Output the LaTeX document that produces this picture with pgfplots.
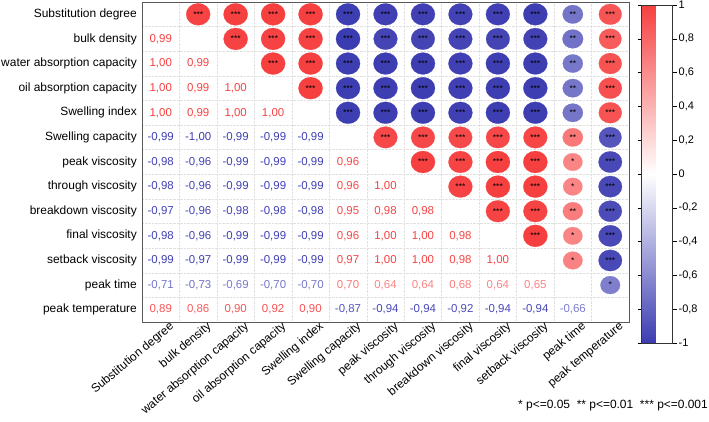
\documentclass[border=0pt]{standalone}
\usepackage{pgfplots}
\pgfplotsset{compat=1.18}
\usepackage{pgfplotstable}
\usepackage{fontspec}
\setmainfont{Liberation Sans}

% Lower triangle: coefficients printed as numbers (x = column, y = row from the top)
\pgfplotstableread{
x y r
1 2 0.99
1 3 1.00
2 3 0.99
1 4 1.00
2 4 0.99
3 4 1.00
1 5 1.00
2 5 0.99
3 5 1.00
4 5 1.00
1 6 -0.99
2 6 -1.00
3 6 -0.99
4 6 -0.99
5 6 -0.99
1 7 -0.98
2 7 -0.96
3 7 -0.99
4 7 -0.99
5 7 -0.99
6 7 0.96
1 8 -0.98
2 8 -0.96
3 8 -0.99
4 8 -0.99
5 8 -0.99
6 8 0.96
7 8 1.00
1 9 -0.97
2 9 -0.96
3 9 -0.98
4 9 -0.98
5 9 -0.98
6 9 0.95
7 9 0.98
8 9 0.98
1 10 -0.98
2 10 -0.96
3 10 -0.99
4 10 -0.99
5 10 -0.99
6 10 0.96
7 10 1.00
8 10 1.00
9 10 0.98
1 11 -0.99
2 11 -0.97
3 11 -0.99
4 11 -0.99
5 11 -0.99
6 11 0.97
7 11 1.00
8 11 1.00
9 11 0.98
10 11 1.00
1 12 -0.71
2 12 -0.73
3 12 -0.69
4 12 -0.70
5 12 -0.70
6 12 0.70
7 12 0.64
8 12 0.64
9 12 0.68
10 12 0.64
11 12 0.65
1 13 0.89
2 13 0.86
3 13 0.90
4 13 0.92
5 13 0.90
6 13 -0.87
7 13 -0.94
8 13 -0.94
9 13 -0.92
10 13 -0.94
11 13 -0.94
12 13 -0.66
}\corrlow

% Upper triangle: circles with significance stars
\pgfplotstableread{
x y r s
2 1 0.99 ***
3 1 1.00 ***
4 1 1.00 ***
5 1 1.00 ***
6 1 -0.99 ***
7 1 -0.98 ***
8 1 -0.98 ***
9 1 -0.97 ***
10 1 -0.98 ***
11 1 -0.99 ***
12 1 -0.71 **
13 1 0.89 ***
3 2 0.99 ***
4 2 0.99 ***
5 2 0.99 ***
6 2 -1.00 ***
7 2 -0.96 ***
8 2 -0.96 ***
9 2 -0.96 ***
10 2 -0.96 ***
11 2 -0.97 ***
12 2 -0.73 **
13 2 0.86 ***
4 3 1.00 ***
5 3 1.00 ***
6 3 -0.99 ***
7 3 -0.99 ***
8 3 -0.99 ***
9 3 -0.98 ***
10 3 -0.99 ***
11 3 -0.99 ***
12 3 -0.69 **
13 3 0.90 ***
5 4 1.00 ***
6 4 -0.99 ***
7 4 -0.99 ***
8 4 -0.99 ***
9 4 -0.98 ***
10 4 -0.99 ***
11 4 -0.99 ***
12 4 -0.70 **
13 4 0.92 ***
6 5 -0.99 ***
7 5 -0.99 ***
8 5 -0.99 ***
9 5 -0.98 ***
10 5 -0.99 ***
11 5 -0.99 ***
12 5 -0.70 **
13 5 0.90 ***
7 6 0.96 ***
8 6 0.96 ***
9 6 0.95 ***
10 6 0.96 ***
11 6 0.97 ***
12 6 0.70 **
13 6 -0.87 ***
8 7 1.00 ***
9 7 0.98 ***
10 7 1.00 ***
11 7 1.00 ***
12 7 0.64 *
13 7 -0.94 ***
9 8 0.98 ***
10 8 1.00 ***
11 8 1.00 ***
12 8 0.64 *
13 8 -0.94 ***
10 9 0.98 ***
11 9 0.98 ***
12 9 0.68 **
13 9 -0.92 ***
11 10 1.00 ***
12 10 0.64 *
13 10 -0.94 ***
12 11 0.65 *
13 11 -0.94 ***
13 12 -0.66 *
}\corrup

\newcommand\lblfont{\fontsize{12}{14}\selectfont}

\begin{document}
\begin{tikzpicture}
\path[use as bounding box] (0,0) rectangle (709bp,-422bp);
\begin{axis}[
  at={(142bp,-322bp)}, anchor=south west,
  scale only axis, width=487bp, height=320bp,
  xmin=0.5, xmax=13.5, ymin=0.5, ymax=13.5,
  xtick={1,...,13}, ytick={1,...,13},
  xticklabels={Substitution degree, bulk density, water absorption capacity,
    oil absorption capacity, Swelling index, Swelling capacity, peak viscosity,
    through viscosity, breakdown viscosity, final viscosity, setback viscosity,
    peak time, peak temperature},
  yticklabels={peak temperature, peak time, setback viscosity, final viscosity,
    breakdown viscosity, through viscosity, peak viscosity, Swelling capacity,
    Swelling index, oil absorption capacity, water absorption capacity,
    bulk density, Substitution degree},
  major tick length=0pt,
  minor xtick={1.5,2.5,3.5,4.5,5.5,6.5,7.5,8.5,9.5,10.5,11.5,12.5},
  minor ytick={1.5,2.5,3.5,4.5,5.5,6.5,7.5,8.5,9.5,10.5,11.5,12.5},
  minor tick length=0pt,
  xminorgrids, yminorgrids,
  minor grid style={black!12, densely dotted},
  axis line style={black!65, line width=0.9pt},
  ticklabel style={font=\lblfont},
  xticklabel style={rotate=40, anchor=north east, inner sep=0pt, xshift=7bp, yshift=-4bp},
  yticklabel style={anchor=east, inner sep=0pt, xshift=-5bp},
  /pgf/number format/assume math mode=true,
  colormap={corr}{rgb255(0cm)=(60,60,178); rgb255(1cm)=(255,255,255); rgb255(2cm)=(246,64,64)},
  point meta min=-1, point meta max=1,
  colorbar,
  colorbar style={
    at={(parent axis.north east)}, anchor=north west,
    xshift=4bp, yshift=-3bp,
    scale only axis, width=31bp, height=338bp,
    ytick={-1,-0.8,-0.6,-0.4,-0.2,0,0.2,0.4,0.6,0.8,1},
    yticklabel style={font=\fontsize{11}{13}\selectfont, inner sep=2pt,
      /pgf/number format/.cd, use comma, assume math mode=true},
    tick align=outside, major tick length=4bp,
    tick style={black, line width=0.6pt},
    axis line style={black!80, line width=0.8pt},
  },
  clip=false,
]
% circles sized by |r|
\addplot[scatter, only marks, mark=*, point meta=explicit,
  scatter/use mapped color={draw=mapped color, fill=mapped color},
  visualization depends on={11*sqrt(abs(\thisrow{r})) \as \rad},
  scatter/@pre marker code/.append style={/tikz/mark size=\rad bp},
  mark options={xscale=1.1, line width=0.2pt},
] table[x=x, y expr=14-\thisrow{y}, meta=r] {\corrup};

% significance stars
\addplot[only marks, mark=none, point meta=explicit symbolic,
  nodes near coords,
  every node near coord/.append style={anchor=center, inner sep=0pt,
    font=\fontsize{8.5}{9}\selectfont, text=black},
] table[x=x, y expr=14-\thisrow{y}, meta=s] {\corrup};

% coefficient values
\addplot[scatter, only marks, mark=text, text mark={}, point meta=explicit,
  scatter/use mapped color={draw=mapped color, fill=mapped color},
  nodes near coords*={\pgfmathprintnumber[fixed, fixed zerofill, precision=2,
    use comma, assume math mode=true]{\pgfplotspointmeta}},
  every node near coord/.append style={anchor=center, inner sep=0pt,
    font=\fontsize{11.5}{13}\selectfont, text=mapped color},
] table[x=x, y expr=14-\thisrow{y}, meta=r] {\corrlow};
\end{axis}
\node[anchor=east, inner sep=0pt, font=\lblfont]
  at (708bp,-406bp) {* p<=0.05\hspace{6.7bp}** p<=0.01\hspace{6.7bp}*** p<=0.001};
\end{tikzpicture}
\end{document}
